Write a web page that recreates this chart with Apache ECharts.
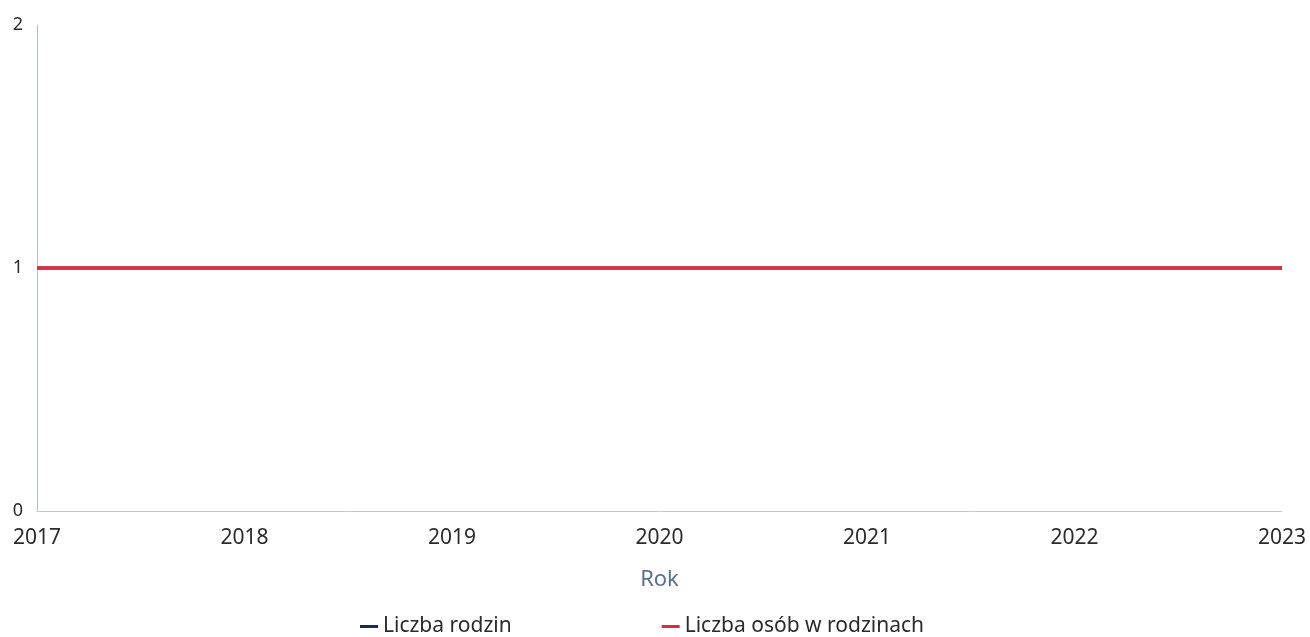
<!DOCTYPE html>
<html>
<head>
<meta charset="utf-8">
<script src="https://cdn.jsdelivr.net/npm/echarts@6/dist/echarts.min.js"></script>
<style>
html,body{margin:0;padding:0;background:#fff;}
#c{width:1310px;height:637px;}
</style>
</head>
<body>
<div id="c"></div>
<script>
const years = ['2017','2018','2019','2020','2021','2022','2023'];
const liczbaRodzin = [1,1,1,1,1,1,1];
const liczbaOsob = [1,1,1,1,1,1,1];
const seriesNames = ['Liczba rodzin','Liczba osób w rodzinach'];

const chart = echarts.init(document.getElementById('c'));
chart.setOption({
  animation:false,
  textStyle:{fontFamily:'Noto Sans'},
  grid:{left:37,right:28,top:25,bottom:126,containLabel:false},
  legend:{
    top:611,left:355,itemGap:150,
    icon:'rect',itemWidth:18,itemHeight:3,
    textStyle:{fontSize:21,color:'#2b2b2b',fontFamily:'Noto Sans'},
    data:seriesNames
  },
  xAxis:{
    type:'category',data:years,boundaryGap:false,
    name:'Rok',nameLocation:'middle',nameGap:58,
    nameTextStyle:{fontSize:22,color:'#5b6f96'},
    axisLine:{lineStyle:{color:'#c3c8de',width:1}},
    axisTick:{show:false},
    axisLabel:{fontSize:21,color:'#2b2b2b',margin:17},
    splitLine:{show:false}
  },
  yAxis:{
    type:'value',min:0,max:2,interval:1,
    axisLine:{show:true,lineStyle:{color:'#b4b9ea',width:1}},
    axisTick:{show:false},
    axisLabel:{fontSize:18,color:'#2b2b2b',margin:14},
    splitLine:{show:false}
  },
  series:[
    {name:seriesNames[0],type:'line',data:liczbaRodzin,showSymbol:false,
     lineStyle:{width:3,color:'#1f2a5c'},itemStyle:{color:'#1f2a5c'}},
    {name:seriesNames[1],type:'line',data:liczbaOsob,showSymbol:false,
     lineStyle:{width:3.5,color:'#dd2a3e'},itemStyle:{color:'#dd2a3e'}}
  ]
});
</script>
</body>
</html>
